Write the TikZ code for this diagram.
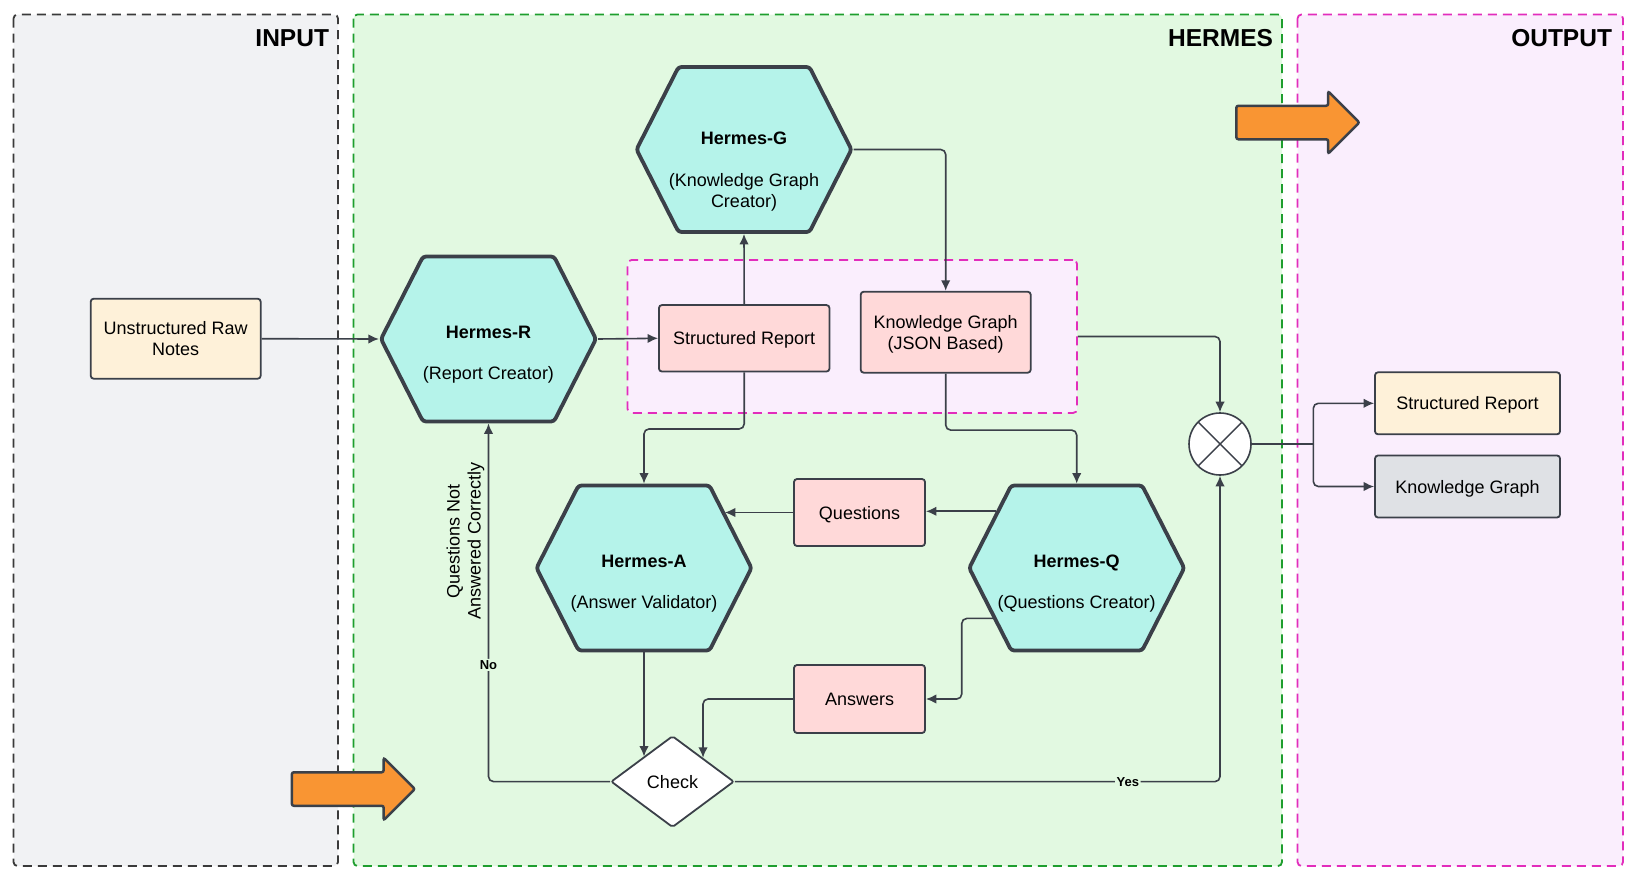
\documentclass[tikz,border=0pt]{standalone}
\usepackage{fontspec}
\setmainfont{Liberation Sans}
\usepackage{tikz}
\usetikzlibrary{arrows.meta,shapes,positioning,calc}

\definecolor{ink}{HTML}{3B4049}
\definecolor{inbg}{HTML}{F1F2F4}
\definecolor{inline}{HTML}{3A3A3A}
\definecolor{hermbg}{HTML}{E2F9E1}
\definecolor{hermline}{HTML}{1E9E2E}
\definecolor{outbg}{HTML}{FAEEFD}
\definecolor{pinkline}{HTML}{E22DBC}
\definecolor{mint}{HTML}{B5F3EA}
\definecolor{rosy}{HTML}{FFD9D9}
\definecolor{cream}{HTML}{FEF1D9}
\definecolor{grayb}{HTML}{DFE1E5}
\definecolor{flagorange}{HTML}{F99533}

\newcommand\txtnorm{\fontsize{18}{21}\selectfont}
\newcommand\txttitle{\fontsize{24.5}{28}\selectfont\bfseries}
\newcommand\txtsmall{\fontsize{13}{15}\selectfont\bfseries}

\tikzset{
  panel/.style={dash pattern=on 9pt off 6pt, line width=1.8pt, rounded corners=4pt},
  box/.style={rectangle, draw=ink, line width=1.8pt, rounded corners=3pt, inner sep=0pt, align=center, font=\txtnorm, text depth=0pt},
  hexa/.style={signal, signal to=east and west, signal pointer angle=126, draw=ink, fill=mint, line width=3.8pt, rounded corners=3pt, minimum width=215pt, minimum height=165pt, inner sep=0pt},
  hextext/.style={align=center, font=\txtnorm},
  link/.style={draw=ink, line width=1.6pt, rounded corners=5pt, -{Latex[length=10.5pt,width=9.5pt]}},
  wire/.style={draw=ink, line width=1.6pt, rounded corners=5pt},
  flag/.style={single arrow, draw=ink, fill=flagorange, line width=2.5pt, rounded corners=2pt, single arrow head extend=14.5pt, minimum height=123pt, inner xsep=0pt, inner ysep=15.5pt},
  tag/.style={font=\txtsmall, fill=hermbg, inner sep=1.5pt},
}

\begin{document}
\begin{tikzpicture}[x=1pt, y=-1pt]
  \useasboundingbox (0,0) rectangle (1632,878);

  \draw[panel, draw=inline, fill=inbg] (13.5,14.5) rectangle (338,866);
  \draw[panel, draw=hermline, fill=hermbg] (353.5,14.5) rectangle (1282,866);
  \draw[panel, draw=pinkline, fill=outbg] (1297.5,14.5) rectangle (1623,866);
  \node[anchor=base east, font=\txttitle] (tin) at (332.5,46.5) {INPUT};
  \node[anchor=base east, font=\txttitle] (therm) at (1276.5,46.5) {HERMES};
  \node[anchor=base east, font=\txttitle] (tout) at (1615.5,46.5) {OUTPUT};

  \node[panel, draw=pinkline, fill=outbg, minimum width=449.5pt, minimum height=153pt, inner sep=0pt] (grp) at (852.3,336.5) {};

  \node[flag] (fl1) at (345,789) {};
  \node[flag] (fl2) at (1289.5,122.5) {};

  \node[box, fill=cream, minimum width=170pt, minimum height=80pt] (raw) at (175.7,338.7) {Unstructured Raw\\Notes};

  \node[hexa] (hr) at (488.5,339) {};
  \node[hextext] (hrt) at (488.5,355) {\textbf{Hermes-R}\\[20pt](Report Creator)};
  \node[hexa] (hg) at (744,149.5) {};
  \node[hextext] (hgt) at (744,172) {\textbf{Hermes-G}\\[21pt](Knowledge Graph\\Creator)};
  \node[hexa] (ha) at (644,568) {};
  \node[hextext] (hat) at (644,583.5) {\textbf{Hermes-A}\\[20pt](Answer Validator)};
  \node[hexa] (hq) at (1076.7,568) {};
  \node[hextext] (hqt) at (1076.7,583.5) {\textbf{Hermes-Q}\\[20pt](Questions Creator)};

  \node[box, fill=rosy, minimum width=170.5pt, minimum height=66.5pt] (sr) at (744.2,338.3) {Structured Report};
  \node[box, fill=rosy, minimum width=170pt, minimum height=81pt] (kg) at (945.7,332.2) {Knowledge Graph\\(JSON Based)};
  \node[box, fill=rosy, minimum width=131pt, minimum height=67pt] (q) at (859.5,512.5) {Questions};
  \node[box, fill=rosy, minimum width=131pt, minimum height=68pt] (a) at (859.5,699) {Answers};
  \node[diamond, draw=ink, fill=white, line width=1.8pt, rounded corners=2pt, minimum width=123pt, minimum height=91.5pt, inner sep=0pt, font=\txtnorm] (ck) at (672.5,781.6) {Check};
  \node[circle, draw=ink, fill=white, line width=1.6pt, minimum size=62pt, inner sep=0pt,
    path picture={\draw[ink, line width=1.4pt] (path picture bounding box.north west) -- (path picture bounding box.south east) (path picture bounding box.north east) -- (path picture bounding box.south west);}] (cx) at (1220,444) {};
  \coordinate (sp) at (1313.3,444);

  \node[box, fill=cream, minimum width=185pt, minimum height=62pt] (o1) at (1467.5,403.3) {Structured Report};
  \node[box, fill=grayb, minimum width=185pt, minimum height=62pt] (o2) at (1467.5,486.5) {Knowledge Graph};

  \draw[link] (raw.east) -- (hr.west);
  \draw[link] (hr.east) -- (sr.west);
  \draw[link] (sr.north) -- (hg.south);
  \draw[link] (hg.east) -| (kg.north);
  \draw[link] (sr.south) -- ++(0,56.5) -| (ha.north);
  \draw[link] (kg.south) -- ++(0,56.5) -| (hq.north);
  \draw[link] (grp.east) -| (cx.north);
  \draw[link] (hq.145) -- (hq.145 -| q.east);
  \draw[link] (q.west) -- (q.west -| ha.35);
  \draw[link] (hq.211) -- ++(-31,0) |- (a.east);
  \draw[link] (a.west) -| (ck.38);
  \draw[link] (ha.south) -- (ha.south |- ck.139);
  \draw[link] (ck.west) -| (hr.south)
    node[tag, pos=0.663] {No}
    node[pos=0.834, above=1pt, rotate=90, align=center, font=\txtnorm] {Questions Not\\Answered Correctly};
  \draw[link] (ck.east) -| (cx.south) node[tag, pos=0.405] {Yes};
  \draw[wire] (cx.east) -- (sp);
  \draw[link] (sp) |- (o1.west);
  \draw[link] (sp) |- (o2.west);
\end{tikzpicture}
\end{document}
